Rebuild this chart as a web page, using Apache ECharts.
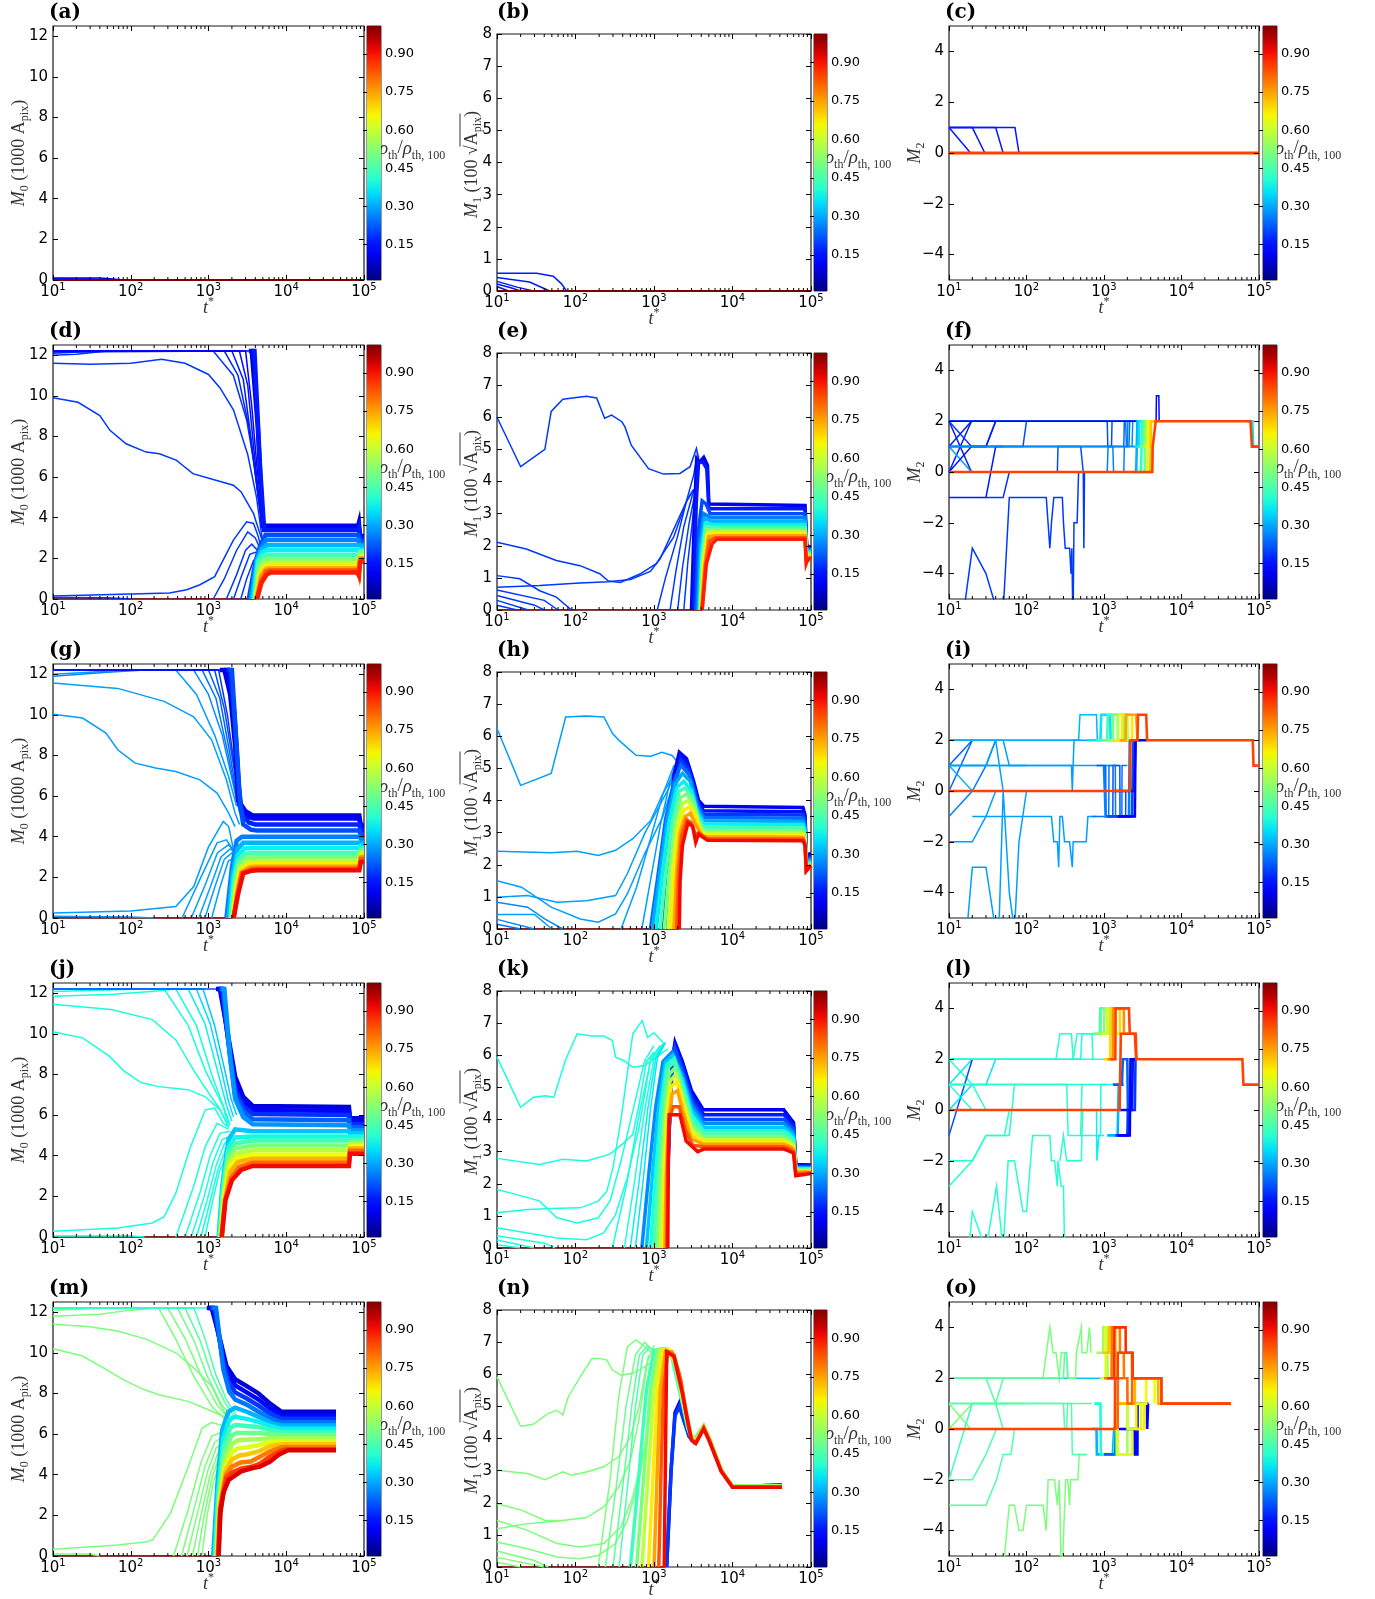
<!DOCTYPE html>
<html><head><meta charset="utf-8">
<script src="https://cdn.jsdelivr.net/npm/echarts@6/dist/echarts.min.js"></script>
<style>html,body{margin:0;padding:0;background:#fff}#c{width:1375px;height:1599px}</style>
</head><body><div id="c"></div>
<script>
// ---------------- data (t*, value) pairs, flat; first item = rho_th/rho_th,100 ----------------
const minorTicks = [20,30,40,50,60,70,80,90,200,300,400,500,600,700,800,900,2000,3000,4000,5000,6000,7000,8000,9000,20000,30000,40000,50000,60000,70000,80000,90000];
const m0Ticks = [0,2,4,6,8,10,12];
const m1Ticks = [0,1,2,3,4,5,6,7,8];
const m2Ticks = [-4,-2,0,2,4];
const cbTicks = [0.15,0.30,0.45,0.60,0.75,0.90];
const panelLabels = ['(a)','(b)','(c)','(d)','(e)','(f)','(g)','(h)','(i)','(j)','(k)','(l)','(m)','(n)','(o)'];

const a_lines = [
 [0.10,[10,0.1, 40,0.1, 60,0.05, 80,0]],
 [0.12,[10,0.06, 30,0.05, 50,0]]
];
const a_band = [[1.0,[10,0, 100000,0]]];

const b_lines = [
 [0.15,[10,0.55, 32,0.55, 52,0.46, 66,0.23, 77,0]],
 [0.15,[10,0.42, 26,0.28, 47,0]],
 [0.15,[10,0.3, 18,0.12, 29,0]],
 [0.15,[10,0.22, 15,0.1, 20,0]],
 [0.15,[10,0.14, 14,0]]
];
const b_band = [[1.0,[10,0, 100000,0]]];

const c_lines = [
 [0.15,[10,1, 19,0]],
 [0.15,[10,1, 20,1, 29,0]],
 [0.15,[10,1, 40,1, 50,0]],
 [0.15,[10,1, 71,1, 80,0]]
];
const c_band = [[0.84,[10,0, 100000,0]]];

const d_lines = [
 [1.00,[10,0, 4200,0]],
 [0.18,[10,11.6, 30,11.55, 100,11.6, 250,11.8, 500,11.6, 1000,11.05, 1400,10.4, 2100,9.3, 3200,7.1, 4150,5.0, 4800,3.2, 5100,2.7]],
 [0.18,[10,9.9, 21,9.68, 40,9.03, 54,8.3, 87,7.64, 158,7.23, 234,7.15, 390,6.82, 447,6.63, 630,6.17, 1150,5.88, 2090,5.6, 2630,5.27, 3800,4.2, 4570,3.23, 5100,2.7]],
 [0.18,[10,0.15, 100,0.25, 316,0.3, 525,0.46, 776,0.7, 1200,1.1, 2090,2.9, 3090,3.8, 3800,3.72, 4370,3.07, 4800,2.4, 5300,2.3]],
 [0.18,[10,0.07, 50,0.06, 100,0]],
 [0.18,[1150,0, 1600,1.0, 2300,2.4, 3200,3.3, 4000,3.0, 4700,2.4]],
 [0.18,[1700,0, 2300,1.2, 3000,2.4, 3600,2.7, 4500,2.3]],
 [0.18,[2100,0, 2700,1.2, 3400,2.2, 4000,2.3, 4600,2.2]],
 [0.18,[2600,0, 3100,1.0, 3800,1.9, 4500,2.1]],
 [0.18,[10,12.0, 20,12.05, 50,12.2, 1150,12.2, 2090,11.0, 3100,8.8, 4000,6.3, 4600,4.2, 5000,3.3]],
 [0.16,[10,12.1, 40,12.2, 1600,12.2, 2400,11.0, 3300,8.5, 4200,5.5, 5000,3.4]],
 [0.15,[10,12.15, 2000,12.2, 2800,10.8, 3500,8.0, 4300,5.2, 5100,3.5]],
 [0.14,[10,12.2, 2500,12.2, 3200,10.5, 3800,7.5, 4500,4.8, 5100,3.5]],
 [0.13,[10,12.2, 3000,12.2, 3600,9.5, 4200,6.5, 5100,3.6]],
 [0.12,[10,12.2, 3600,12.2]]
];
const d_band = [
 [0.10,[3300,12.2, 3600,12.2, 4300,8.5, 5000,3.6, 84000,3.6, 86000,3.75, 89000,3.1, 100000,3.1]],
 [0.15,[3600,12.2, 3900,12.2, 4600,6.5, 5200,3.4, 84000,3.4, 86000,3.5, 89000,3.0, 100000,3.0]],
 [0.20,[3300,0, 4000,1.8, 4600,2.6, 5400,3.15, 84000,3.15, 89000,2.85, 100000,2.85]],
 [0.25,[3500,0, 4100,1.8, 4700,2.5, 5500,2.9, 84000,2.9, 89000,2.7, 100000,2.7]],
 [0.30,[3600,0, 4200,1.9, 4800,2.45, 5600,2.65, 84000,2.65, 89000,2.6, 100000,2.6]],
 [0.36,[3800,0, 4300,1.9, 4900,2.3, 5600,2.4, 84000,2.4, 89000,2.45, 100000,2.45]],
 [0.43,[3900,0, 4400,1.8, 5000,2.1, 5700,2.15, 84000,2.15, 89000,2.35, 100000,2.35]],
 [0.50,[4000,0, 4500,1.6, 5100,1.9, 5700,1.95, 84000,1.95, 89000,2.25, 100000,2.25]],
 [0.58,[4050,0, 4600,1.4, 5200,1.72, 5700,1.78, 84000,1.78, 89000,2.15, 100000,2.15]],
 [0.66,[4100,0, 4650,1.25, 5300,1.57, 5700,1.62, 84000,1.62, 89000,2.05, 100000,2.05]],
 [0.74,[4150,0, 4700,1.1, 5400,1.45, 5800,1.5, 84000,1.5, 86000,1.4, 89000,2.0, 100000,2.0]],
 [0.82,[4200,0, 4800,0.9, 5500,1.35, 6000,1.4, 84000,1.4, 86000,1.25, 89000,1.9, 100000,1.95]],
 [0.88,[4200,0, 4800,0.8, 5600,1.2, 6300,1.3, 82000,1.3, 86000,1.15, 89000,1.8, 100000,1.9]]
];

const e_lines = [
 [1.00,[10,0, 4100,0]],
 [0.18,[10,6.0, 20,4.46, 40.7,5.0, 49,6.18, 69,6.56, 138,6.65, 186,6.6, 235,5.97, 288,6.07, 389,5.86, 427,5.7, 513,5.13, 851,4.4, 1318,4.23, 2140,4.25, 2880,4.46, 3470,5.03, 3700,4.7]],
 [0.18,[10,2.11, 23.6,1.9, 57,1.54, 114,1.38, 204,1.13, 262,0.9, 372,0.86, 661,1.12, 1070,1.44, 1778,2.27, 2630,3.42, 3162,3.73, 3700,3.83]],
 [0.18,[10,0.71, 35,0.76, 114,0.84, 262,0.88, 500,0.95, 900,1.2, 1200,1.6, 1700,2.4, 2500,3.3, 3100,3.7, 3600,3.8]],
 [0.18,[10,1.07, 19.5,0.97, 35,0.6, 57,0.4, 89,0]],
 [0.18,[10,0.62, 40,0.3, 60,0]],
 [0.18,[10,0.45, 30,0.15, 40,0]],
 [0.18,[10,0.3, 25,0]],
 [0.18,[10,0.15, 18,0]],
 [0.18,[1100,0, 1400,1.0, 2000,2.3, 2600,3.4, 3200,4.2, 3600,4.9]],
 [0.18,[1600,0, 1900,1.2, 2400,2.6, 3100,3.6, 3600,4.0]],
 [0.18,[2000,0, 2300,1.3, 2800,2.7, 3300,3.6, 3600,4.5]],
 [0.18,[2400,0, 2700,1.5, 3100,2.8, 3500,4.0, 3700,4.8]]
];
const e_band = [
 [0.10,[3000,0, 3300,3.2, 3500,4.7, 3800,4.6, 4300,4.75, 4800,4.5, 5000,3.3, 84000,3.25, 87000,3.2, 88000,2.0, 100000,1.95]],
 [0.15,[3200,0, 3450,3.3, 3700,4.6, 4200,4.6, 4700,4.4, 5000,3.15, 84000,3.15, 88000,1.95, 100000,1.92]],
 [0.20,[3400,0, 3700,2.5, 4100,3.4, 4600,3.3, 5200,3.0, 84000,3.0, 88000,1.9, 100000,1.9]],
 [0.25,[3550,0, 3850,2.2, 4300,3.0, 5300,2.87, 84000,2.87, 88000,1.87, 100000,1.87]],
 [0.30,[3700,0, 3950,2.0, 4400,2.85, 5400,2.76, 84000,2.76, 88000,1.84, 100000,1.84]],
 [0.36,[3800,0, 4050,1.8, 4500,2.7, 5500,2.66, 84000,2.66, 88000,1.8, 100000,1.8]],
 [0.43,[3850,0, 4100,1.6, 4550,2.6, 5600,2.57, 84000,2.57, 88000,1.76, 100000,1.76]],
 [0.50,[3900,0, 4150,1.5, 4650,2.5, 5700,2.49, 84000,2.49, 88000,1.72, 100000,1.72]],
 [0.58,[3950,0, 4200,1.4, 4750,2.42, 5800,2.43, 84000,2.43, 88000,1.68, 100000,1.68]],
 [0.66,[4000,0, 4300,1.3, 4850,2.35, 5900,2.37, 84000,2.37, 88000,1.65, 100000,1.65]],
 [0.74,[4050,0, 4400,1.3, 4950,2.28, 6000,2.31, 84000,2.31, 87000,1.6, 100000,1.62]],
 [0.82,[4100,0, 4500,1.35, 5100,2.15, 6100,2.25, 84000,2.25, 87000,1.5, 90000,1.55, 100000,1.62]],
 [0.88,[4100,0, 4650,1.44, 5500,2.06, 6300,2.2, 84000,2.2, 87000,1.45, 90000,1.55, 100000,1.65]]
];

const f_lines = [
 [0.15,[10,2, 19.5,0]],
 [0.15,[10,1, 19.5,2]],
 [0.15,[10,0, 19.5,2]],
 [0.18,[10,2, 19.5,1, 30,1, 40,2]],
 [0.28,[10,1, 19.5,0]],
 [0.15,[10,0, 19.5,1, 30,1, 40,2]],
 [0.15,[10,-1, 30,-1, 40,1, 50,1]],
 [0.18,[30,-1, 50,-1, 60,0]],
 [0.20,[10,1, 90,1, 100,2]],
 [0.20,[10,0, 250,0, 255,1, 500,1, 540,0]],
 [0.18,[15.5,-5.5, 20,-3, 30,-4, 42,-5.5]],
 [0.18,[50,-5.5, 60,-1, 180,-1, 200,-3, 210,-2, 225,-1, 290,-1, 300,-2, 316,-3, 360,-3, 375,-4, 385,-3, 395,-5.5]],
 [0.18,[400,-5.5, 410,-2, 450,-2, 470,0, 540,0, 550,-3, 560,0]],
 [0.15,[10,2, 4500,2]],
 [0.20,[10,1, 3800,1]],
 [0.20,[10,2, 1100,2, 1120,1, 1250,1, 1270,2, 4500,2]],
 [0.22,[10,1, 1800,1, 1830,2, 4500,2]],
 [0.24,[10,2, 1900,2, 1950,1, 2100,1, 2150,2, 4500,2]],
 [0.26,[10,1, 2300,1, 2350,2, 4500,2]],
 [0.25,[10,0, 1100,0, 1130,1, 1300,1, 1330,0, 1800,0, 1830,1, 2000,1, 2030,2]],
 [0.12,[10,2, 4700,2, 4750,3, 5100,3, 5150,2, 77600,2]]
];
const f_band = [
 [0.30,[2400,0, 2600,0, 2650,1, 2700,2, 4600,2]],
 [0.35,[2400,1, 2800,1, 2850,2, 4600,2]],
 [0.40,[2600,0, 3000,0, 3050,1, 3100,2, 4600,2]],
 [0.45,[2800,1, 3200,1, 3250,2, 4600,2]],
 [0.50,[3000,0, 3350,0, 3400,2, 4600,2]],
 [0.55,[3100,1, 3500,1, 3550,2, 4600,2]],
 [0.60,[3300,0, 3650,0, 3700,2, 4600,2]],
 [0.65,[3400,1, 3800,1, 3850,2, 4600,2]],
 [0.70,[3500,0, 3950,0, 4000,1, 4050,2, 4600,2]],
 [0.35,[70000,2, 82000,2, 84000,1, 100000,1]],
 [0.84,[10,0, 4200,0, 4250,1, 4500,1, 4650,2, 77600,2, 81000,1, 100000,1]]
];

const g_lines = [
 [1.00,[10,0, 2100,0]],
 [0.28,[10,11.56, 68,11.3, 269,10.66, 645,9.9, 1096,8.77, 1700,6.8, 2200,5.16, 2500,4.6]],
 [0.28,[10,10.03, 24,9.84, 48,9.1, 68,8.28, 114,7.62, 209,7.38, 380,7.21, 776,6.8, 1290,6.15, 1820,5.16, 2190,4.5]],
 [0.28,[10,0.25, 100,0.35, 380,0.57, 645,1.55, 1000,3.5, 1550,4.75, 1820,4.5, 2190,3.0, 2500,2.6]],
 [0.28,[10,0.08, 100,0.05, 200,0]],
 [0.28,[457,0, 776,1.9, 1290,3.7, 1700,3.85, 2200,3.2, 2500,2.9]],
 [0.28,[600,0, 900,1.6, 1300,3.2, 1800,3.6, 2400,3.1]],
 [0.28,[750,0, 1050,1.5, 1450,3.0, 1900,3.4, 2500,3.1]],
 [0.28,[900,0, 1200,1.5, 1600,2.9, 2000,3.2, 2600,3.0]],
 [0.28,[1100,0, 1400,1.5, 1800,2.8, 2200,3.0]],
 [0.28,[10,12.0, 30,12.1, 80,12.2, 380,12.2, 700,11.0, 1200,9.0, 1800,7.0, 2300,5.5]],
 [0.26,[10,11.9, 50,12.1, 150,12.2, 645,12.2, 1000,11.0, 1500,9.0, 2100,6.5, 2500,5.2]],
 [0.24,[10,12.2, 830,12.2, 1250,10.8, 1800,8.0, 2400,5.5]],
 [0.22,[10,12.2, 1000,12.2, 1400,10.8, 1900,8.0, 2400,5.6]],
 [0.20,[10,12.2, 1200,12.2, 1600,10.3, 2100,7.5, 2500,5.6]],
 [0.18,[10,12.2, 1350,12.2, 1750,10.0, 2200,7.2, 2600,5.6]],
 [0.12,[10,12.2, 1800,12.2]]
];
const g_band = [
 [0.08,[1400,12.2, 1600,12.2, 1900,11.0, 2200,8.5, 2400,5.8, 3000,5.25, 3700,5.05, 87000,5.05, 91000,4.55, 100000,4.55]],
 [0.12,[1600,12.2, 1800,12.2, 2100,10.5, 2350,7.5, 2500,5.6, 3100,5.0, 3800,4.9, 87000,4.9, 91000,4.45, 100000,4.45]],
 [0.16,[1700,12.2, 1900,12.2, 2200,9.5, 2450,6.5, 2700,5.1, 3300,4.7, 4000,4.6, 87000,4.6, 91000,4.3, 100000,4.3]],
 [0.20,[1800,12.2, 2000,12.2, 2300,8.5, 2550,5.6, 2800,4.6, 3500,4.35, 4200,4.3, 87000,4.3, 91000,4.1, 100000,4.1]],
 [0.25,[1700,0, 2000,2.5, 2300,3.8, 2700,4.0, 3500,4.0, 87000,4.0, 91000,3.9, 100000,3.9]],
 [0.30,[1800,0, 2050,2.2, 2350,3.4, 2800,3.7, 3600,3.7, 87000,3.7, 91000,3.7, 100000,3.7]],
 [0.36,[1900,0, 2100,2.0, 2400,3.1, 2900,3.42, 3700,3.45, 87000,3.45, 91000,3.55, 100000,3.55]],
 [0.43,[1950,0, 2150,1.8, 2450,2.85, 3000,3.17, 3800,3.2, 87000,3.2, 91000,3.4, 100000,3.4]],
 [0.50,[2000,0, 2200,1.6, 2500,2.65, 3100,2.96, 3900,3.0, 87000,3.0, 91000,3.3, 100000,3.3]],
 [0.58,[2050,0, 2250,1.5, 2550,2.5, 3200,2.77, 4000,2.8, 87000,2.8, 91000,3.2, 100000,3.2]],
 [0.66,[2080,0, 2300,1.4, 2600,2.35, 3300,2.62, 4100,2.65, 87000,2.65, 91000,3.1, 100000,3.1]],
 [0.74,[2100,0, 2350,1.3, 2650,2.25, 3400,2.5, 4200,2.52, 87000,2.52, 91000,3.0, 100000,3.0]],
 [0.82,[2100,0, 2400,1.2, 2700,2.2, 3500,2.4, 4300,2.42, 87000,2.42, 91000,2.9, 100000,2.9]],
 [0.90,[2100,0, 2400,1.2, 2800,2.2, 3600,2.33, 4360,2.35, 87000,2.35, 91000,2.75, 100000,2.8]]
];

const h_lines = [
 [1.00,[10,0, 2100,0]],
 [0.28,[10,6.24, 20,4.47, 49,4.84, 75,6.6, 138,6.63, 230,6.6, 295,6.09, 355,5.88, 590,5.41, 910,5.38, 1260,5.5, 1700,5.4, 2000,5.2]],
 [0.28,[10,2.42, 49,2.37, 105,2.42, 195,2.29, 324,2.45, 537,2.81, 910,3.38, 1290,4.21, 1820,4.84, 2100,5.0]],
 [0.28,[10,0.99, 24.5,1.04, 58,0.83, 138,0.88, 324,1.04, 457,1.72, 760,2.97, 1500,4.32, 2000,5.0]],
 [0.28,[10,1.5, 20.5,1.3, 49,0.68, 115,0.31, 195,0.21, 324,0.47, 457,1.09, 760,2.34, 1290,3.49, 1800,4.6]],
 [0.26,[10,0.83, 24.5,0.68, 41,0.31, 69,0]],
 [0.28,[10,0.45, 30,0.45, 50,0]],
 [0.26,[10,0.3, 30,0]],
 [0.24,[10,0.15, 20,0]],
 [0.28,[380,0, 600,1.3, 900,2.8, 1300,4.2, 1800,5.1]],
 [0.28,[700,0, 900,1.5, 1200,3.2, 1600,4.6, 2000,5.3]],
 [0.30,[900,0, 1100,1.5, 1400,3.2, 1800,4.7, 2200,5.4]],
 [0.30,[1100,0, 1300,1.6, 1600,3.3, 2000,4.8, 2400,5.3]]
];
const h_band = [
 [0.10,[1300,0, 1500,2.5, 1800,4.8, 2100,5.5, 2600,5.3, 3200,4.6, 3700,4.0, 4300,3.82, 79000,3.78, 84000,3.55, 87000,2.3, 100000,2.35]],
 [0.14,[1350,0, 1550,2.5, 1850,4.7, 2150,5.4, 2650,5.15, 3200,4.5, 3700,3.9, 4300,3.68, 79000,3.65, 84000,3.45, 87000,2.25, 100000,2.3]],
 [0.18,[1400,0, 1600,2.4, 1900,4.6, 2200,5.25, 2700,5.0, 3300,4.3, 3800,3.75, 4300,3.57, 79000,3.55, 84000,3.35, 87000,2.2, 100000,2.25]],
 [0.23,[900,0, 1100,1.5, 1400,3.4, 1800,4.6, 2200,5.1, 2800,4.8, 3400,4.0, 4300,3.47, 79000,3.45, 84000,3.25, 87000,2.15, 100000,2.2]],
 [0.29,[950,0, 1150,1.5, 1450,3.3, 1850,4.5, 2300,4.85, 2900,4.6, 3500,3.8, 4300,3.37, 79000,3.35, 84000,3.15, 87000,2.1, 100000,2.15]],
 [0.36,[1050,0, 1250,1.6, 1550,3.3, 1950,4.4, 2400,4.6, 3000,4.3, 3600,3.6, 4300,3.27, 79000,3.25, 84000,3.05, 87000,2.05, 100000,2.1]],
 [0.43,[1200,0, 1400,1.7, 1700,3.3, 2100,4.3, 2500,4.4, 3100,4.1, 3700,3.4, 4300,3.17, 79000,3.15, 84000,2.95, 87000,2.0, 100000,2.05]],
 [0.50,[1350,0, 1550,1.7, 1850,3.3, 2200,4.1, 2600,4.2, 3200,3.9, 3800,3.25, 4300,3.07, 79000,3.05, 84000,2.85, 87000,1.95, 100000,2.02]],
 [0.58,[1500,0, 1700,1.8, 1950,3.2, 2300,3.9, 2700,4.0, 3300,3.7, 3900,3.1, 4400,2.99, 79000,2.98, 84000,2.8, 87000,1.9, 100000,2.0]],
 [0.66,[1650,0, 1800,1.8, 2050,3.1, 2400,3.7, 2800,3.8, 3400,3.5, 4000,3.0, 4500,2.93, 79000,2.92, 84000,2.75, 87000,1.88, 100000,2.0]],
 [0.74,[1800,0, 1950,1.8, 2150,3.0, 2500,3.5, 2900,3.6, 3500,3.2, 4100,2.9, 4600,2.87, 79000,2.86, 84000,2.7, 87000,1.85, 100000,1.98]],
 [0.82,[1950,0, 2050,1.7, 2250,2.9, 2600,3.4, 3000,3.3, 3400,2.9, 3700,3.0, 4700,2.81, 79000,2.8, 84000,2.65, 87000,1.82, 100000,1.98]],
 [0.90,[2100,0, 2150,1.5, 2300,2.6, 2700,3.3, 3100,3.2, 3400,2.7, 3700,2.95, 4800,2.76, 79000,2.75, 84000,2.6, 87000,1.8, 100000,1.98]]
];

const i_lines = [
 [0.22,[10,1, 20,2]],
 [0.22,[10,0, 20,2]],
 [0.30,[10,1, 20,0]],
 [0.25,[10,-1, 20,0, 30,1, 40,2]],
 [0.28,[10,-2, 20,-2, 30,-1, 40,0]],
 [0.28,[10,2, 50,2, 60,1, 100,1]],
 [0.28,[10,1, 30,1, 40,2]],
 [0.28,[10,2, 1800,2]],
 [0.28,[10,1, 1500,1]],
 [0.28,[20,-1, 210,-1, 225,-2, 250,-2, 260,-3, 270,-1, 290,-1, 310,-2, 330,-2, 360,-2, 390,-3, 400,-2, 590,-2, 620,-1, 800,-1]],
 [0.28,[17,-5.5, 20,-3, 30,-3, 40,-5.5]],
 [0.28,[44,-5.5, 50,0, 60,-4, 70,-5.5]],
 [0.28,[70,-5.5, 80,-2, 100,0]],
 [0.28,[40,2, 50,0]],
 [0.30,[10,2, 470,2, 490,3, 800,3, 820,2, 1000,2]],
 [0.28,[10,1, 380,1, 390,0, 400,0, 410,2, 490,2]],
 [0.20,[800,1, 1050,1, 1060,-1, 1300,-1, 1310,1, 1600,1, 1610,-1, 1900,-1, 1910,0, 2200,0]],
 [0.24,[700,-1, 1150,-1, 1160,1, 1400,1, 1410,-1, 1700,-1, 1710,1, 2000,1]]
];
const i_band = [
 [0.35,[600,2, 900,2, 920,3, 1200,3, 1220,2, 2000,2]],
 [0.42,[800,2, 1100,2, 1120,3, 1500,3, 1520,2, 2200,2]],
 [0.50,[1000,2, 1300,2, 1320,3, 1800,3, 1820,2, 2300,2]],
 [0.58,[1200,2, 1500,2, 1520,3, 2000,3, 2020,2, 2400,2]],
 [0.66,[1400,2, 1700,2, 1720,3, 2300,3, 2320,2, 2600,2]],
 [0.74,[1600,2, 1900,2, 1920,3, 2600,3, 2700,2, 3000,2]],
 [0.25,[1000,1, 1050,-1, 2100,-1, 2150,2]],
 [0.20,[1100,-1, 2300,-1, 2350,1, 2400,2]],
 [0.15,[1300,0, 2450,0, 2500,1, 2550,2]],
 [0.12,[1500,-1, 2500,-1, 2550,2, 3600,2]],
 [0.84,[10,0, 2150,0, 2200,2, 2700,2, 2750,3, 3500,3, 3600,2, 83000,2, 85000,1, 100000,1]]
];

const j_lines = [
 [1.00,[10,0, 1480,0]],
 [0.38,[10,11.46, 56,11.2, 190,10.7, 380,9.7, 645,8.2, 1000,7.1, 1400,6.3, 1820,5.4]],
 [0.38,[10,10.1, 24,9.8, 53,8.9, 80,8.2, 135,7.6, 229,7.4, 550,7.25, 910,6.9, 1400,6.25, 1820,5.4]],
 [0.38,[10,12.08, 50,12.15, 150,12.2, 269,12.2, 550,10.4, 910,8.2, 1550,6.4, 1820,5.4]],
 [0.38,[10,11.85, 60,11.95, 200,12.1, 380,12.2, 700,10.4, 1100,8.0, 1600,6.3, 1900,5.5]],
 [0.36,[10,12.2, 550,12.2, 900,10.5, 1300,8.2, 1700,6.5, 2000,5.7]],
 [0.34,[10,12.2, 700,12.2, 1050,10.5, 1450,8.3, 1800,6.7, 2100,5.9]],
 [0.32,[10,12.2, 850,12.2, 1200,10.4, 1600,8.3, 1950,6.8, 2300,6.0]],
 [0.38,[10,0.28, 68,0.44, 190,0.69, 269,1.0, 380,2.16, 590,4.46, 910,6.26, 1200,6.34, 1550,5.6, 1820,5.4]],
 [0.38,[10,0.05, 100,0.05, 150,0]],
 [0.38,[380,0, 645,2.5, 910,4.46, 1290,5.6, 1820,5.3]],
 [0.38,[500,0, 780,2.2, 1050,4.0, 1400,5.1, 1900,5.2]],
 [0.38,[600,0, 880,2.0, 1150,3.7, 1500,4.8, 2000,5.0]],
 [0.38,[700,0, 960,1.8, 1250,3.5, 1600,4.6, 2100,4.9]],
 [0.38,[800,0, 1040,1.7, 1320,3.3, 1700,4.4, 2200,4.8]],
 [0.38,[900,0, 1120,1.7, 1380,3.2, 1800,4.2, 2300,4.6]],
 [0.20,[10,12.2, 1500,12.2]]
];
const j_band = [
 [0.08,[1250,12.2, 1400,12.2, 1700,10.4, 2200,7.9, 2800,6.9, 3700,6.45, 64000,6.4, 66000,5.85, 100000,5.85]],
 [0.12,[1300,12.2, 1450,12.2, 1750,10.0, 2200,7.6, 2800,6.7, 3700,6.25, 64000,6.2, 66000,5.7, 100000,5.7]],
 [0.17,[1350,12.2, 1500,12.2, 1800,9.6, 2200,7.3, 2800,6.45, 3700,6.05, 64000,6.0, 66000,5.55, 100000,5.55]],
 [0.22,[1400,12.2, 1550,12.2, 1850,9.2, 2200,7.0, 2800,6.2, 3700,5.8, 64000,5.75, 66000,5.4, 100000,5.4]],
 [0.27,[1450,12.2, 1600,12.2, 1900,8.8, 2200,6.8, 2800,5.9, 3700,5.55, 64000,5.5, 66000,5.25, 100000,5.25]],
 [0.32,[1350,0, 1500,2.5, 1800,4.8, 2200,5.3, 2800,5.25, 3700,5.2, 64000,5.2, 66000,5.1, 100000,5.1]],
 [0.37,[1380,0, 1520,2.3, 1800,4.4, 2200,4.9, 3700,4.95, 64000,4.95, 100000,4.95]],
 [0.43,[1400,0, 1540,2.2, 1800,4.1, 2200,4.6, 3700,4.75, 64000,4.75, 66000,4.8, 100000,4.8]],
 [0.50,[1420,0, 1560,2.1, 1800,3.85, 2200,4.35, 3700,4.5, 64000,4.5, 66000,4.65, 100000,4.65]],
 [0.57,[1440,0, 1580,2.0, 1800,3.6, 2200,4.1, 3700,4.27, 64000,4.27, 66000,4.55, 100000,4.55]],
 [0.64,[1460,0, 1600,1.9, 1850,3.4, 2300,3.9, 3700,4.05, 64000,4.05, 66000,4.45, 100000,4.45]],
 [0.72,[1470,0, 1620,1.8, 1900,3.2, 2400,3.7, 3700,3.85, 64000,3.85, 66000,4.35, 100000,4.35]],
 [0.80,[1480,0, 1640,1.8, 1950,2.9, 2500,3.45, 3700,3.65, 64000,3.65, 66000,4.25, 100000,4.25]],
 [0.90,[1480,0, 1650,1.8, 2000,2.8, 2630,3.3, 3700,3.5, 64000,3.5, 66000,4.1, 100000,4.1]]
];

const k_lines = [
 [1.00,[10,0, 1500,0]],
 [0.38,[10,5.94, 20,4.38, 29,4.69, 41,4.74, 53,4.69, 58,5.0, 74,5.83, 105,6.67, 162,6.6, 230,6.6, 295,6.46, 324,5.94, 417,5.83, 537,5.63, 760,5.68, 1070,5.94, 1500,6.2]],
 [0.38,[10,2.79, 35,2.6, 69,2.76, 138,2.71, 275,2.92, 417,3.28, 537,3.54, 650,4.5, 800,5.8, 1000,6.1]],
 [0.38,[10,1.1, 24.5,1.2, 49,1.23, 115,1.25, 195,1.46, 251,1.77, 300,2.5, 380,4.0, 460,5.5, 537,6.67, 708,7.08, 830,6.56, 1000,6.7, 1300,6.4]],
 [0.38,[10,1.82, 17.5,1.67, 35,1.46, 58,0.94, 105,0.78, 195,0.94, 275,1.46, 380,2.71, 537,4.27, 760,5.83, 1000,6.3]],
 [0.38,[10,0.63, 24.5,0.47, 58,0.31, 138,0.26, 229,0.47, 324,1.04, 457,2.19, 645,3.75, 910,5.9, 1200,6.3]],
 [0.38,[10,0.38, 40,0.15, 55,0]],
 [0.38,[10,0.25, 30,0]],
 [0.38,[10,0.1, 20,0]],
 [0.38,[295,0, 450,2.0, 650,4.2, 900,5.8, 1200,6.3]],
 [0.38,[420,0, 560,2.0, 750,4.2, 1000,5.9, 1300,6.35]],
 [0.36,[500,0, 640,2.0, 830,4.3, 1050,5.9, 1350,6.4]],
 [0.35,[580,0, 720,2.0, 900,4.3, 1100,5.9, 1400,6.4]]
];
const k_band = [
 [0.10,[1400,0, 1550,3.5, 1700,5.8, 1850,6.4, 2300,5.8, 3000,4.9, 4250,4.3, 45000,4.3, 52000,4.1, 60000,3.9, 64000,2.6, 100000,2.58]],
 [0.15,[1400,0, 1550,3.4, 1700,5.7, 1850,6.3, 2300,5.7, 3000,4.75, 4300,4.15, 45000,4.15, 52000,4.0, 60000,3.8, 64000,2.56, 100000,2.55]],
 [0.20,[1380,0, 1530,3.3, 1700,5.6, 1850,6.2, 2300,5.55, 3000,4.6, 4300,4.0, 45000,4.0, 52000,3.87, 60000,3.7, 64000,2.53, 100000,2.52]],
 [0.26,[700,0, 850,2.2, 1050,4.4, 1300,5.8, 1700,6.1, 2300,5.4, 3000,4.45, 4300,3.88, 45000,3.88, 52000,3.75, 60000,3.6, 64000,2.51, 100000,2.5]],
 [0.32,[800,0, 950,2.2, 1150,4.4, 1400,5.8, 1750,6.0, 2300,5.3, 3000,4.3, 4300,3.76, 45000,3.76, 52000,3.65, 60000,3.5, 64000,2.49, 100000,2.48]],
 [0.38,[900,0, 1040,2.2, 1230,4.4, 1450,5.7, 1800,5.9, 2300,5.15, 3000,4.15, 4300,3.65, 45000,3.65, 52000,3.55, 60000,3.4, 64000,2.47, 100000,2.46]],
 [0.44,[1000,0, 1130,2.2, 1300,4.3, 1500,5.6, 1800,5.8, 2300,5.0, 3000,4.0, 4300,3.55, 45000,3.55, 52000,3.45, 60000,3.32, 64000,2.45, 100000,2.44]],
 [0.50,[1100,0, 1210,2.2, 1370,4.2, 1550,5.4, 1850,5.6, 2300,4.85, 3000,3.85, 4300,3.45, 45000,3.45, 52000,3.36, 60000,3.25, 64000,2.43, 100000,2.42]],
 [0.58,[1200,0, 1290,2.2, 1420,4.1, 1600,5.2, 1900,5.4, 2300,4.7, 3000,3.7, 4300,3.37, 45000,3.37, 52000,3.3, 60000,3.2, 64000,2.41, 100000,2.4]],
 [0.66,[1300,0, 1370,2.2, 1480,4.0, 1650,5.0, 1950,5.2, 2300,4.5, 3000,3.55, 4300,3.3, 45000,3.3, 52000,3.23, 60000,3.14, 64000,2.39, 100000,2.38]],
 [0.74,[1380,0, 1430,2.2, 1530,3.9, 1700,4.8, 2000,4.9, 2300,4.3, 3000,3.4, 4300,3.23, 45000,3.23, 52000,3.17, 60000,3.08, 64000,2.37, 100000,2.36]],
 [0.82,[1450,0, 1490,2.5, 1560,4.0, 1750,4.4, 2100,4.4, 2500,3.7, 3100,3.2, 4300,3.15, 45000,3.15, 52000,3.1, 60000,3.0, 64000,2.3, 100000,2.34]],
 [0.90,[1500,0, 1520,2.5, 1560,4.15, 2140,4.15, 2570,3.33, 3600,3.0, 4300,3.08, 45000,3.08, 52000,3.02, 60000,2.95, 64000,2.25, 100000,2.32]]
];

const l_lines = [
 [0.40,[10,2, 20,1]],
 [0.35,[10,1, 20,2]],
 [0.40,[10,1, 20,0]],
 [0.20,[10,-1, 20,2]],
 [0.35,[10,0, 20,1, 30,1, 40,2]],
 [0.40,[10,1, 20,1, 30,0]],
 [0.40,[10,-3, 20,-2, 30,-1, 52,-1, 60,0]],
 [0.40,[10,-2, 20,-2, 30,-1, 60,-1, 70,1]],
 [0.40,[10,2, 1500,2]],
 [0.38,[10,1, 1300,1]],
 [0.40,[18,-5.5, 20,-4, 30,-5.5]],
 [0.40,[30,-5.5, 41,-3, 50,-5.5]],
 [0.40,[50,-5.5, 58,-2, 70,-2, 90,-4, 100,-4, 120,-1, 200,-1, 210,-2, 230,-2, 250,-3, 255,-2, 270,-2, 280,-3, 300,-3, 310,-5.5]],
 [0.40,[270,-2, 300,-1, 310,-1, 330,-2, 510,-2, 530,0]],
 [0.40,[10,2, 240,2, 270,3, 380,3, 400,2, 500,2]],
 [0.40,[10,1, 330,1, 345,-1, 500,-1, 520,1]],
 [0.40,[400,2, 450,3, 700,3, 720,2]],
 [0.38,[10,2, 500,2, 520,3, 900,3]],
 [0.42,[700,3, 870,3, 880,4, 1000,4, 1010,3]],
 [0.38,[500,-1, 900,-1, 910,1, 1100,1]],
 [0.36,[600,0, 800,0, 810,-2, 850,-2, 860,-1, 1000,-1]]
];
const l_band = [
 [0.45,[700,3, 900,3, 910,4, 1100,4, 1110,3, 1300,3]],
 [0.52,[800,3, 1000,3, 1010,4, 1250,4, 1260,3, 1500,3]],
 [0.60,[900,3, 1100,3, 1110,4, 1400,4, 1410,3, 1600,3]],
 [0.68,[1000,2, 1200,2, 1210,4, 1600,4, 1610,3, 1700,3]],
 [0.76,[1100,2, 1300,2, 1310,4, 1800,4, 1810,3, 2000,3]],
 [0.84,[1200,2, 1400,2, 1410,4, 2100,4, 2150,3, 2500,3, 2600,2]],
 [0.30,[1100,-1, 1500,-1, 1550,1, 1800,1]],
 [0.22,[1300,1, 1700,1, 1750,2, 2000,2, 2050,-1, 2100,-1]],
 [0.18,[1400,-1, 2000,-1, 2050,0, 2500,0, 2550,2]],
 [0.14,[1600,0, 2300,0, 2350,2, 2600,2]],
 [0.10,[1500,-1, 2150,-1, 2200,2, 2600,2]],
 [0.84,[10,0, 1590,0, 1650,3, 2570,3, 2620,2, 61000,2, 63000,1, 100000,1]]
];

const m_lines = [
 [1.00,[10,0, 1350,0]],
 [0.50,[10,11.4, 28,11.3, 68,11.07, 162,10.66, 380,10.0, 645,9.26, 1100,8.36, 1400,7.5, 1820,6.7]],
 [0.50,[10,10.2, 24,9.84, 48,9.18, 80,8.68, 148,8.19, 229,7.94, 550,7.61, 1000,7.2, 1550,6.88, 1900,6.6]],
 [0.50,[10,11.8, 40,11.9, 100,12.1, 229,12.2, 380,10.66, 645,8.85, 1100,7.37, 1820,6.55]],
 [0.50,[10,12.1, 50,12.2, 300,12.2, 500,10.7, 800,8.9, 1300,7.4, 2000,6.6]],
 [0.48,[10,12.2, 400,12.2, 650,10.6, 950,8.9, 1450,7.5, 2100,6.7]],
 [0.46,[10,12.2, 500,12.2, 780,10.6, 1100,8.9, 1600,7.6, 2200,6.8]],
 [0.44,[10,12.2, 650,12.2, 900,10.7, 1250,8.9, 1700,7.7, 2300,6.9]],
 [0.50,[10,0.33, 68,0.54, 162,0.7, 191,0.79, 324,2.1, 550,4.4, 830,6.3, 1100,6.58, 1550,6.4]],
 [0.50,[10,0.1, 30,0.1, 40,0]],
 [0.50,[355,0, 550,2.3, 800,4.6, 1100,5.9, 1500,6.1]],
 [0.50,[450,0, 640,2.2, 900,4.4, 1200,5.6, 1600,5.9]],
 [0.50,[530,0, 720,2.1, 980,4.2, 1250,5.3, 1650,5.7]],
 [0.50,[620,0, 800,2.0, 1050,4.0, 1300,5.0, 1700,5.5]],
 [0.50,[720,0, 880,2.0, 1100,3.8, 1350,4.8, 1750,5.3]],
 [0.50,[820,0, 960,2.0, 1150,3.6, 1400,4.6, 1800,5.1]],
 [0.40,[10,12.2, 1200,12.2]]
];
const m_band = [
 [0.08,[950,12.2, 1100,12.2, 1400,10.7, 1700,9.35, 2200,8.7, 3100,8.36, 4400,8.0, 6200,7.5, 8700,7.1, 10500,7.1, 43600,7.1]],
 [0.13,[1000,12.2, 1150,12.2, 1450,10.3, 1750,9.0, 2200,8.4, 3100,8.05, 4400,7.7, 6200,7.25, 8700,6.93, 10500,6.92, 43600,6.92]],
 [0.18,[1050,12.2, 1200,12.2, 1500,9.8, 1800,8.6, 2200,8.05, 3100,7.75, 4400,7.4, 6200,7.0, 8700,6.76, 10500,6.75, 43600,6.75]],
 [0.24,[1100,12.2, 1250,12.2, 1550,9.2, 1850,8.1, 2200,7.7, 3100,7.45, 4400,7.1, 6200,6.78, 8700,6.58, 10500,6.58, 43600,6.58]],
 [0.30,[1150,0, 1300,3.5, 1500,6.2, 1800,7.1, 2200,7.3, 3100,7.1, 4400,6.85, 6200,6.58, 8700,6.42, 10500,6.42, 43600,6.42]],
 [0.36,[1200,0, 1330,3.2, 1550,5.8, 1850,6.7, 2200,6.85, 3100,6.75, 4400,6.6, 6200,6.4, 8700,6.26, 10500,6.26, 43600,6.26]],
 [0.42,[1230,0, 1350,3.0, 1580,5.4, 1900,6.3, 2200,6.45, 3100,6.4, 4400,6.35, 6200,6.2, 8700,6.1, 10500,6.1, 43600,6.1]],
 [0.48,[1260,0, 1370,2.8, 1600,5.0, 1950,5.9, 2300,6.05, 3100,6.05, 4400,6.05, 6200,6.0, 8700,5.95, 10500,5.95, 43600,5.95]],
 [0.55,[1280,0, 1380,2.7, 1620,4.7, 2000,5.5, 2400,5.7, 3100,5.72, 4400,5.75, 6200,5.8, 8700,5.8, 10500,5.8, 43600,5.8]],
 [0.62,[1300,0, 1390,2.6, 1640,4.4, 2000,5.1, 2400,5.3, 3100,5.35, 4400,5.45, 6200,5.6, 8700,5.65, 10500,5.65, 43600,5.65]],
 [0.70,[1310,0, 1400,2.5, 1660,4.2, 2000,4.75, 2500,4.95, 3100,5.0, 4400,5.15, 6200,5.4, 8700,5.5, 10500,5.5, 43600,5.5]],
 [0.78,[1320,0, 1410,2.4, 1680,4.0, 2000,4.4, 2600,4.6, 3500,4.65, 4400,4.85, 6200,5.15, 8700,5.35, 10500,5.37, 43600,5.37]],
 [0.85,[1340,0, 1420,2.3, 1700,3.85, 2000,4.1, 2600,4.3, 3700,4.4, 4600,4.55, 6200,4.9, 8700,5.2, 10500,5.25, 43600,5.25]],
 [0.92,[1350,0, 1420,2.1, 1550,3.1, 1820,3.75, 2630,4.16, 3700,4.33, 4600,4.4, 6200,4.65, 8000,4.98, 10500,5.2, 43600,5.2]]
];

const n_lines = [
 [1.00,[10,0, 1400,0]],
 [0.50,[10,5.92, 20,4.38, 29,4.44, 45,4.78, 58,4.88, 69,4.73, 81,5.3, 115,5.92, 162,6.49, 209,6.49, 251,6.44, 295,6.13, 380,5.97, 537,6.03, 760,6.23, 1000,6.44, 1200,6.6]],
 [0.50,[195,0, 275,2.7, 355,5.3, 457,6.86, 590,7.07, 760,6.86, 910,6.7, 1100,6.6]],
 [0.50,[10,3.01, 24.5,2.91, 41,2.72, 69,2.96, 89,2.86, 138,2.96, 229,3.12, 355,3.43, 501,4.05, 645,4.99, 800,6.3, 1000,6.9]],
 [0.50,[10,1.97, 20.5,1.77, 41,1.45, 69,1.45, 138,1.54, 229,1.87, 355,2.49, 501,3.32, 645,4.6, 850,6.6]],
 [0.50,[10,1.19, 24.5,1.35, 69,1.45]],
 [0.50,[10,1.45, 24.5,1.14, 58,0.73, 115,0.62, 229,0.73, 380,1.25, 537,2.18, 760,3.74, 1000,5.6]],
 [0.50,[10,0.78, 24.5,0.57, 58,0.31, 115,0.26, 195,0.36, 324,0.73, 457,1.45, 645,2.7, 900,4.8]],
 [0.50,[10,0.3, 25,0.1, 40,0]],
 [0.50,[10,0.15, 20,0]],
 [0.50,[10,0.5, 30,0.2, 45,0]],
 [0.48,[240,0, 330,2.5, 440,5.0, 580,6.6, 760,7.0, 1000,6.7]],
 [0.46,[300,0, 400,2.5, 520,5.0, 650,6.6, 850,6.9]],
 [0.44,[360,0, 460,2.5, 580,5.0, 720,6.6, 900,6.85]]
];
const n_band = [
 [0.10,[1450,0, 1650,3.0, 1850,4.8, 2100,5.1, 2400,4.6, 2800,4.1, 3200,3.9, 4300,4.35, 5100,3.95, 7200,3.0, 10000,2.5, 42600,2.55]],
 [0.18,[1450,0, 1650,3.0, 1850,4.7, 2100,5.0, 2400,4.55, 2800,4.05, 3200,3.9, 4300,4.35, 5100,3.95, 7200,3.0, 10000,2.5, 42600,2.55]],
 [0.42,[500,0, 650,3.0, 800,5.5, 1000,6.75, 1300,6.8, 1700,6.5, 2200,5.3, 2700,4.3, 3200,3.95, 4300,4.4, 5100,4.0, 7200,3.02, 10000,2.52, 42600,2.53]],
 [0.50,[600,0, 750,3.0, 900,5.5, 1100,6.75, 1400,6.8, 1800,6.4, 2300,5.2, 2800,4.2, 3300,3.95, 4300,4.4, 5100,4.0, 7200,3.02, 10000,2.52, 42600,2.52]],
 [0.58,[700,0, 850,3.0, 1000,5.5, 1200,6.75, 1500,6.78, 1900,6.3, 2400,5.0, 2900,4.1, 3400,3.92, 4300,4.38, 5100,3.98, 7200,3.01, 10000,2.51, 42600,2.51]],
 [0.66,[850,0, 980,3.0, 1100,5.5, 1300,6.75, 1600,6.75, 2000,6.2, 2500,4.9, 3000,4.05, 3400,3.9, 4300,4.37, 5100,3.97, 7200,3.0, 10000,2.5, 42600,2.5]],
 [0.74,[1000,0, 1100,3.0, 1200,5.5, 1400,6.7, 1700,6.7, 2100,6.0, 2600,4.8, 3000,4.0, 3400,3.88, 4300,4.35, 5100,3.95, 7200,3.0, 10000,2.5, 42600,2.5]],
 [0.82,[1150,0, 1230,3.0, 1320,5.5, 1500,6.7, 1800,6.6, 2200,5.8, 2600,4.7, 3000,3.95, 3400,3.85, 4300,4.33, 5100,3.93, 7200,2.98, 10000,2.49, 42600,2.49]],
 [0.90,[1350,0, 1400,3.5, 1450,6.7, 1800,6.55, 2300,5.4, 2700,4.5, 3000,3.95, 3400,3.85, 4300,4.3, 5100,3.9, 7200,2.97, 10000,2.48, 42600,2.48]]
];

const o_lines = [
 [0.32,[10,2, 900,2]],
 [0.45,[10,1, 700,1]],
 [0.50,[10,1, 19,0]],
 [0.50,[10,0, 20,1, 100,1]],
 [0.42,[10,-2, 20,1, 60,1]],
 [0.45,[10,-2, 20,-2, 30,-1, 41,0, 60,0]],
 [0.45,[10,-3, 30,-3, 41,-2, 50,-1, 63,-1, 70,0]],
 [0.45,[30,2, 40,1, 50,0]],
 [0.45,[40,1, 50,2]],
 [0.50,[163,2, 200,4, 220,3, 240,3, 265,2, 280,3, 325,3, 345,2, 430,2, 440,3, 510,4, 520,3, 600,3, 650,4, 680,3]],
 [0.50,[50,-5.5, 60,-3, 70,-3, 80,-4, 90,-4, 100,-3, 163,-3, 180,-4, 190,-2, 230,-2, 250,-3, 265,-2, 280,-5.5]],
 [0.50,[290,-5.5, 320,-2, 340,-2, 360,-3, 370,-2, 460,-2, 480,-1, 600,-1]],
 [0.45,[10,1, 300,1, 310,0, 330,0, 340,1, 380,1, 390,-1, 600,-1]],
 [0.45,[10,2, 300,2, 310,3, 330,3, 340,2]]
];
const o_band = [
 [0.30,[700,0, 800,0, 810,-1, 1300,-1, 1350,0, 1400,0]],
 [0.38,[750,1, 900,1, 910,-1, 1350,-1, 1400,0]],
 [0.22,[1000,-1, 1400,-1, 1420,0, 1450,0]],
 [0.55,[1300,0, 1450,0, 1460,-1, 2000,-1, 2010,1, 2400,1]],
 [0.62,[1300,0, 1500,0, 1510,-1, 2300,-1, 2310,0, 2500,0]],
 [0.12,[1500,0, 2500,0, 2510,-1, 2700,-1, 2710,1]],
 [0.60,[1400,1, 2000,1, 2010,0, 3000,0, 3010,1, 3200,1]],
 [0.66,[1300,0, 1500,0, 1510,1, 2600,1, 2610,0, 3300,0, 3310,1]],
 [0.12,[2500,1, 3600,1, 3610,0, 3700,0, 3710,1]],
 [0.55,[800,3, 975,3, 980,4, 1100,4, 1110,2, 1300,2]],
 [0.62,[900,2, 1050,2, 1060,4, 1250,4, 1260,3, 1400,3]],
 [0.70,[950,3, 1150,3, 1160,4, 1400,4, 1410,2, 1600,2]],
 [0.78,[1000,2, 1250,2, 1260,4, 1600,4, 1610,3, 1800,3, 1810,2]],
 [0.64,[1800,1, 3500,1, 3510,2, 4500,2, 4510,1]],
 [0.72,[1450,1, 2500,1, 2510,2, 5000,2, 5010,1, 5500,1]],
 [0.86,[1100,2, 1350,2, 1360,4, 1900,4, 1910,3, 2340,3, 2350,2, 3000,2]],
 [0.80,[1500,0, 1510,2, 2000,2, 2010,1, 2300,1, 2310,2, 5500,2, 5510,1, 43500,1]],
 [0.84,[10,0, 1380,0, 1390,2, 1500,2, 1510,3, 2300,3, 2310,2, 5500,2, 5510,1, 43500,1]]
];

// ---------------- styling / layout (code, not data) ----------------
function jet(x){
  const seg = p => { for (let i=1;i<p.length;i++){ if (x<=p[i][0]){ const a=p[i-1], b=p[i]; return a[1]+(b[1]-a[1])*(x-a[0])/(b[0]-a[0]); } } return p[p.length-1][1]; };
  const r=seg([[0,0],[0.35,0],[0.66,1],[0.89,1],[1,0.5]]);
  const g=seg([[0,0],[0.125,0],[0.375,1],[0.64,1],[0.91,0],[1,0]]);
  const b=seg([[0,0.5],[0.11,1],[0.34,1],[0.65,0],[1,0]]);
  return 'rgb('+Math.round(r*255)+','+Math.round(g*255)+','+Math.round(b*255)+')';
}
const COLS = [
  {left:53,  width:311, cbLeft:367,  cbW:14, top:26, h:254, nameX:19,  lab:49,  tGap:28},
  {left:497, width:314, cbLeft:814,  cbW:13, top:34, h:257, nameX:472, lab:497, tGap:28},
  {left:949, width:310, cbLeft:1263, cbW:14, top:26, h:254, nameX:915, lab:945, tGap:28}
];
const ROW = 319;
const SERIF = 'Liberation Serif';
const SANS = 'DejaVu Sans';
const mathRich = {
  i:{fontFamily:SERIF, fontStyle:'italic', fontSize:18, color:'#333', lineHeight:24},
  n:{fontFamily:SERIF, fontSize:18, color:'#333', lineHeight:24},
  s:{fontFamily:SERIF, fontSize:12, color:'#333', verticalAlign:'bottom'},
  u:{fontFamily:SERIF, fontSize:12, color:'#333', verticalAlign:'top'}
};
const cbRich = {
  i:{fontFamily:SERIF, fontStyle:'italic', fontSize:19, color:'#333', lineHeight:26},
  n:{fontFamily:SERIF, fontSize:19, color:'#333', lineHeight:26},
  s:{fontFamily:SERIF, fontSize:12, color:'#333', verticalAlign:'bottom'}
};
const KIND = {
  M0:{min:0, max:12.5, ticks:m0Ticks, name:'{i|M}{s|0}{n| (1000 A}{s|pix}{n|)}'},
  M1:{min:0, max:8, ticks:m1Ticks, name:'{i|M}{s|1}{n| (100 √A}{s|pix}{n|)}'},
  M2:{min:-5, max:5, ticks:m2Ticks, name:'{i|M}{s|2}'}
};
const panels = [
  ['M0',a_lines,a_band,2.2],['M1',b_lines,b_band,2.2],['M2',c_lines,c_band,3],
  ['M0',d_lines,d_band,4.5],['M1',e_lines,e_band,3.5],['M2',f_lines,f_band,2.6],
  ['M0',g_lines,g_band,4.5],['M1',h_lines,h_band,3.5],['M2',i_lines,i_band,2.6],
  ['M0',j_lines,j_band,4.5],['M1',k_lines,k_band,3.5],['M2',l_lines,l_band,2.6],
  ['M0',m_lines,m_band,4.5],['M1',n_lines,n_band,3.5],['M2',o_lines,o_band,2.6]
];
const jetStops = [];
for (let k=0;k<=20;k++){ const v=k/20; jetStops.push({offset:1-v, color:jet(v)}); }

const grid=[], xAxis=[], yAxis=[], series=[], graphic=[];
panels.forEach((p, idx) => {
  const [kind, lines, band, bw] = p;
  const row = Math.floor(idx/3), col = idx%3, C = COLS[col], K = KIND[kind];
  const top = C.top + row*ROW;
  grid.push({left:C.left, top:top, width:C.width, height:C.h, show:true, borderColor:'#1a1a1a', borderWidth:1.2, backgroundColor:'transparent', outerBoundsMode:'none'});
  grid.push({left:C.cbLeft, top:top, width:C.cbW, height:C.h, show:true, borderColor:'#333', borderWidth:1, backgroundColor:'transparent', outerBoundsMode:'none'});
  const gi = 2*idx;
  const tickStyle = {inside:true, length:5, lineStyle:{color:'#000', width:1}};
  xAxis.push({type:'log', logBase:10, gridIndex:gi, min:10, max:100000, position:'bottom', z:10,
    axisLine:{show:false, onZero:false}, axisTick:tickStyle, splitLine:{show:false}, minorTick:{show:false},
    axisLabel:{margin:2, showMinLabel:true, showMaxLabel:true, hideOverlap:false, formatter:v=>'{b|10}{p|'+Math.round(Math.log10(v))+'}',
      rich:{b:{fontFamily:SANS, fontSize:15, color:'#000', lineHeight:20}, p:{fontFamily:SANS, fontSize:10, color:'#000', verticalAlign:'top'}}}});
  xAxis.push({type:'log', logBase:10, gridIndex:gi, min:10, max:100000, position:'top', z:10,
    axisLine:{show:false, onZero:false}, axisTick:tickStyle, axisLabel:{show:false}, splitLine:{show:false}});
  xAxis.push({type:'value', gridIndex:gi+1, min:0, max:1, show:false, axisLine:{onZero:false}});
  yAxis.push({type:'value', gridIndex:gi, min:K.min, max:K.max, position:'left', z:10,
    axisLine:{show:false, onZero:false}, axisTick:Object.assign({customValues:K.ticks}, tickStyle), splitLine:{show:false},
    axisLabel:{customValues:K.ticks, fontFamily:SANS, fontSize:15, color:'#000', margin:5, formatter:v=> v<0 ? '\u2212'+Math.abs(v) : String(v)}});
  yAxis.push({type:'value', gridIndex:gi, min:K.min, max:K.max, position:'right', z:10,
    axisLine:{show:false, onZero:false}, axisTick:Object.assign({customValues:K.ticks}, tickStyle), axisLabel:{show:false}, splitLine:{show:false}});
  yAxis.push({type:'value', gridIndex:gi+1, min:0.01, max:1.01, position:'right', z:10,
    axisLine:{show:false}, axisTick:{inside:true, length:4, customValues:cbTicks, lineStyle:{color:'#000'}}, splitLine:{show:false},
    axisLabel:{customValues:cbTicks, fontFamily:SANS, fontSize:13, color:'#000', margin:4, formatter:v=>v.toFixed(2)}});
  const xi = 3*idx, yi = 3*idx;
  const addCurves = (list, width) => list.forEach(([rho, flat]) => {
    const pts=[]; for (let k=0;k<flat.length;k+=2) pts.push([flat[k], flat[k+1]]);
    const c = jet(rho);
    series.push({type:'line', xAxisIndex:xi, yAxisIndex:yi, data:pts, symbol:'none', showSymbol:false, silent:true,
      lineStyle:{color:c, width:width, join:'miter'}, itemStyle:{color:c}, clip:true, z:2, animation:false});
  });
  addCurves(lines, 1.5);
  addCurves(band, bw);
  // minor ticks of the log axis (bottom and top)
  series.push({type:'custom', xAxisIndex:xi, yAxisIndex:yi, silent:true, z:12, clip:false, animation:false,
    data: minorTicks.map(t=>[t, K.min]),
    renderItem:(params, api) => {
      const t = api.value(0); const b = api.coord([t, K.min]); const q = api.coord([t, K.max]);
      return {type:'group', children:[
        {type:'line', shape:{x1:b[0], y1:b[1], x2:b[0], y2:b[1]-3}, style:{stroke:'#000', lineWidth:1}},
        {type:'line', shape:{x1:q[0], y1:q[1], x2:q[0], y2:q[1]+3}, style:{stroke:'#000', lineWidth:1}}]};
    }});
  // colorbar
  series.push({type:'custom', xAxisIndex:3*idx+2, yAxisIndex:3*idx+2, silent:true, z:1, animation:false,
    data:[[0,0.01]],
    renderItem:(params, api) => {
      const a = api.coord([0,1.01]); const b = api.coord([1,0.01]);
      return {type:'rect', shape:{x:a[0], y:a[1], width:b[0]-a[0], height:b[1]-a[1]},
        style:{fill:{type:'linear', x:0, y:0, x2:0, y2:1, colorStops:jetStops}}};
    }});
  const mid = top + C.h/2;
  graphic.push({type:'text', left:C.lab, top:top - (col===1?31:23), silent:true,
    style:{text:panelLabels[idx], font:'bold 20px "DejaVu Serif"', fill:'#000'}});
  graphic.push({type:'text', left:C.cbLeft + C.cbW - 2, top:mid - 14, silent:true,
    style:{text:'{i|ρ}{s|th}{n|/}{i|ρ}{s|th, 100}', rich:cbRich, fill:'#333'}});
  graphic.push({type:'text', x:C.nameX, y:mid + (col===1?2:0), rotation:Math.PI/2, silent:true,
    style:{text:K.name, rich:mathRich, align:'center', verticalAlign:'middle', fill:'#333'}});
  graphic.push({type:'text', x:C.left + C.width/2, y:Math.min(top + C.h + C.tGap, 1590), silent:true,
    style:{text:'{i|t}{u|*}', rich:mathRich, align:'center', verticalAlign:'middle', fill:'#333'}});
  if (col === 1) {
    graphic.push({type:'line', silent:true, shape:{x1:460, y1:mid-16, x2:460, y2:mid-49}, style:{stroke:'#333', lineWidth:1}});
  }
});

const chart = echarts.init(document.getElementById('c'), null, {renderer:'canvas'});
chart.setOption({animation:false, backgroundColor:'#fff', grid, xAxis, yAxis, series, graphic});
</script></body></html>
